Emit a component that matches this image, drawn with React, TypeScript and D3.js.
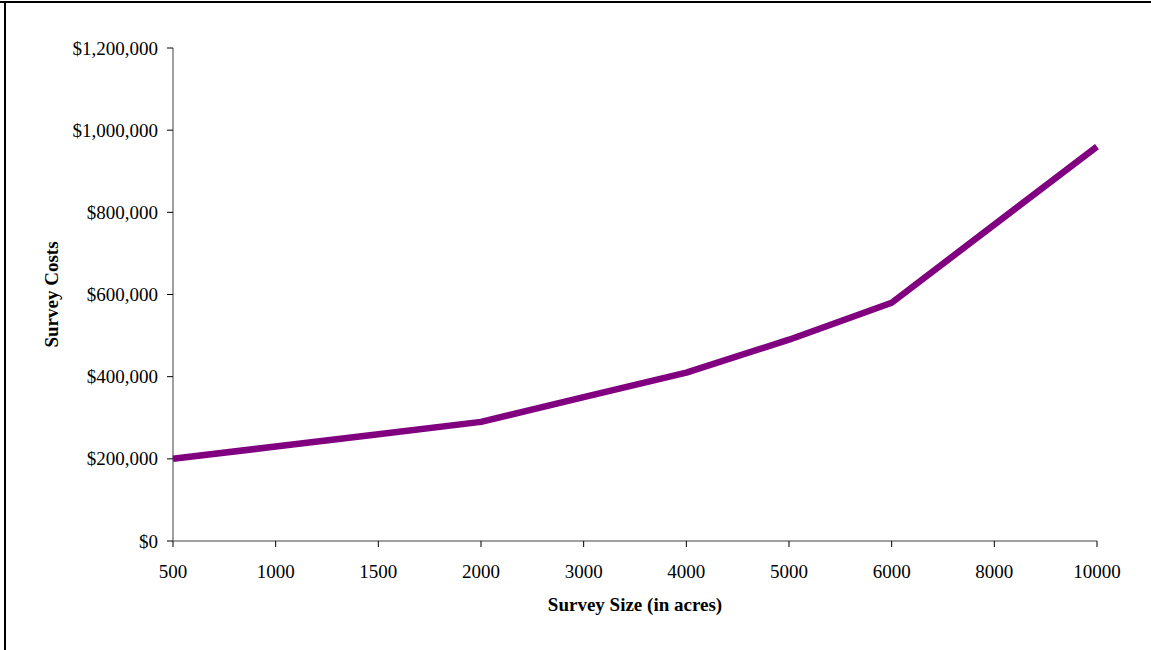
import React from "react";
import * as d3 from "d3";

const categories = ["500", "1000", "1500", "2000", "3000", "4000", "5000", "6000", "8000", "10000"];
const costs = [200000, 230000, 260000, 290000, 350000, 410000, 490000, 580000, 770000, 960000];
const yTicks = [0, 200000, 400000, 600000, 800000, 1000000, 1200000];

const W = 1151;
const H = 650;
const left = 173;
const right = 1097;
const top = 48;
const bottom = 541;

export default function App() {
  const x = d3.scalePoint<string>().domain(categories).range([left, right]).padding(0);
  const y = d3.scaleLinear().domain([0, 1200000]).range([bottom, top]);
  const fmt = (v: number) => "$" + d3.format(",")(v);
  const line = d3
    .line<number>()
    .x((_, i) => x(categories[i]) as number)
    .y((d) => y(d));

  const font = "'Liberation Serif', 'Times New Roman', serif";

  return (
    <svg
      width={W}
      height={H}
      style={{ position: "absolute", left: 0, top: 0, background: "#fff" }}
      fontFamily={font}
    >
      <rect x={0} y={0} width={W} height={H} fill="#fff" />
      {/* frame */}
      <line x1={0} x2={W} y1={2} y2={2} stroke="#000" strokeWidth={2} />
      <line x1={5} x2={5} y1={1} y2={H} stroke="#000" strokeWidth={2} />

      {/* y axis */}
      <line x1={left} x2={left} y1={top} y2={bottom} stroke="#808080" strokeWidth={1.5} />
      {yTicks.map((t) => (
        <g key={t}>
          <line x1={left - 6} x2={left} y1={y(t)} y2={y(t)} stroke="#000" strokeWidth={1} />
          <text x={158} y={y(t)} dy="0.35em" textAnchor="end" fontSize={19} fill="#000">
            {fmt(t)}
          </text>
        </g>
      ))}

      {/* x axis */}
      <line x1={left} x2={right} y1={bottom} y2={bottom} stroke="#808080" strokeWidth={1.5} />
      {categories.map((c) => (
        <g key={c}>
          <line x1={x(c)} x2={x(c)} y1={bottom} y2={bottom + 6} stroke="#000" strokeWidth={1} />
          <text x={x(c)} y={578} textAnchor="middle" fontSize={19} fill="#000">
            {c}
          </text>
        </g>
      ))}

      {/* line */}
      <path
        d={line(costs) || ""}
        fill="none"
        stroke="#800080"
        strokeWidth={6.5}
        strokeLinejoin="round"
      />

      {/* titles */}
      <text x={(left + right) / 2} y={611} textAnchor="middle" fontSize={19} fontWeight="bold" fill="#000">
        Survey Size (in acres)
      </text>
      <text
        transform={`translate(58, ${(top + bottom) / 2}) rotate(-90)`}
        textAnchor="middle"
        fontSize={19}
        fontWeight="bold"
        fill="#000"
      >
        Survey Costs
      </text>
    </svg>
  );
}
